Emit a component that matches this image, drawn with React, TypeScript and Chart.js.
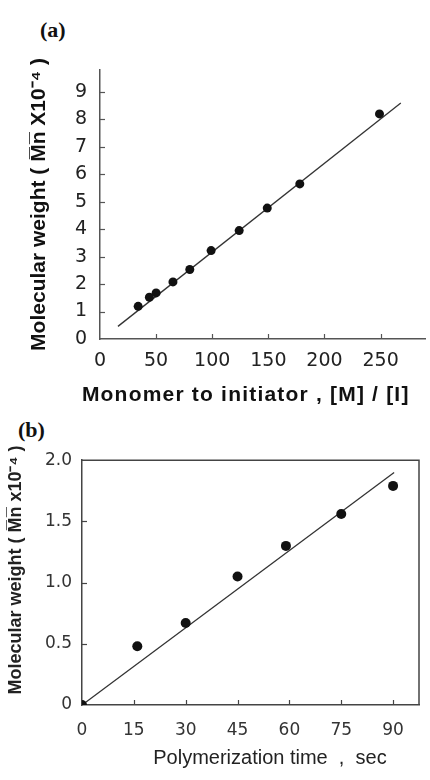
import React, { useEffect, useRef } from "react";
import { Chart, registerables } from "chart.js";

Chart.register(...registerables);

// ---- Panel (a): Mn vs [M]/[I] ----
const ratioA = [34, 44, 50, 65, 80, 99, 124, 149, 178, 249];
const mnA = [1.19, 1.52, 1.68, 2.08, 2.53, 3.22, 3.95, 4.77, 5.65, 8.2];
const fitAX = [16, 268];
const fitAY = [0.46, 8.6];
const xTicksA = [0, 50, 100, 150, 200, 250];
const xTickLabelsA = ["0", "50", "100", "150", "200", "250"];
const yTicksA = [0, 1, 2, 3, 4, 5, 6, 7, 8, 9];
const yTickLabelsA = ["0", "1", "2", "3", "4", "5", "6", "7", "8", "9"];
const xTitleA = "Monomer to initiator , [M] / [I]";

// ---- Panel (b): Mn vs polymerization time ----
const timeB = [0, 16, 30, 45, 59, 75, 90];
const mnB = [0, 0.48, 0.67, 1.05, 1.3, 1.56, 1.79];
const fitBX = [0, 90.3];
const fitBY = [0, 1.9];
const xTicksB = [0, 15, 30, 45, 60, 75, 90];
const xTickLabelsB = ["0", "15", "30", "45", "60", "75", "90"];
const yTicksB = [0, 0.5, 1.0, 1.5, 2.0];
const yTickLabelsB = ["0", "0.5", "1.0", "1.5", "2.0"];

const DEJAVU = "'DejaVu Sans', 'Liberation Sans', sans-serif";
const SANS = "'Liberation Sans', Arial, sans-serif";
const NARROW = "'Liberation Sans Narrow', 'Arial Narrow', 'Liberation Sans', sans-serif";

function innerTicksPlugin(len: number, color: string, width: number) {
  return {
    id: "innerTicks",
    afterDatasetsDraw(chart: any) {
      const { ctx, chartArea, scales } = chart;
      ctx.save();
      ctx.strokeStyle = color;
      ctx.lineWidth = width;
      const xs = scales.x;
      const ys = scales.y;
      for (const t of xs.ticks) {
        if (t.value <= xs.min || t.value >= xs.max) continue;
        const px = Math.round(xs.getPixelForValue(t.value)) + 0.5;
        ctx.beginPath();
        ctx.moveTo(px, chartArea.bottom);
        ctx.lineTo(px, chartArea.bottom - len);
        ctx.stroke();
      }
      for (const t of ys.ticks) {
        if (t.value <= ys.min || t.value >= ys.max) continue;
        const py = Math.round(ys.getPixelForValue(t.value)) + 0.5;
        ctx.beginPath();
        ctx.moveTo(chartArea.left, py);
        ctx.lineTo(chartArea.left + len, py);
        ctx.stroke();
      }
      ctx.restore();
    },
  };
}

function boxPlugin(color: string, width: number) {
  return {
    id: "boxFrame",
    afterDatasetsDraw(chart: any) {
      const { ctx, chartArea } = chart;
      ctx.save();
      ctx.strokeStyle = color;
      ctx.lineWidth = width;
      ctx.beginPath();
      ctx.moveTo(chartArea.left, chartArea.top);
      ctx.lineTo(chartArea.right, chartArea.top);
      ctx.lineTo(chartArea.right, chartArea.bottom);
      ctx.stroke();
      ctx.restore();
    },
  };
}

// x-axis title for panel (a), drawn a little left of the plot centre as in the source figure
function xTitlePlugin(text: string, shift: number, fromBottom: number) {
  return {
    id: "xTitleA",
    afterDraw(chart: any) {
      const { ctx, chartArea } = chart;
      ctx.save();
      ctx.font = "bold 21px 'Liberation Sans', Arial, sans-serif";
      (ctx as any).letterSpacing = "1.2px";
      ctx.fillStyle = "#111";
      ctx.textAlign = "center";
      ctx.textBaseline = "middle";
      const cx = (chartArea.left + chartArea.right) / 2 + shift;
      ctx.fillText(text, cx, chart.height - fromBottom);
      ctx.restore();
    },
  };
}

function ChartA() {
  const ref = useRef<HTMLCanvasElement | null>(null);
  useEffect(() => {
    if (!ref.current) return;
    const chart = new Chart(ref.current, {
      type: "scatter",
      data: {
        datasets: [
          {
            label: "Mn",
            data: ratioA.map((x, i) => ({ x, y: mnA[i] })),
            pointRadius: 4.5,
            pointBackgroundColor: "#111",
            pointBorderColor: "#111",
            pointBorderWidth: 0,
            showLine: false,
          },
          {
            label: "fit",
            data: fitAX.map((x, i) => ({ x, y: fitAY[i] })),
            showLine: true,
            borderColor: "#333",
            borderWidth: 1.3,
            pointRadius: 0,
          },
        ],
      },
      options: {
        responsive: false,
        animation: false,
        layout: { padding: { top: 70, right: 0, left: 0, bottom: 0 } },
        plugins: { legend: { display: false }, tooltip: { enabled: false } },
        scales: {
          x: {
            type: "linear",
            min: 0,
            max: 290,
            afterBuildTicks: (s: any) => {
              s.ticks = xTicksA.map((v) => ({ value: v }));
            },
            afterFit: (s: any) => {
              s.height = 71;
            },
            grid: { display: false, drawTicks: false },
            border: { display: true, color: "#555", width: 1.5 },
            ticks: {
              padding: 11,
              color: "#222",
              maxRotation: 0,
              autoSkip: false,
              font: { size: 19, family: DEJAVU },
              callback: (_v: any, i: number) => xTickLabelsA[i],
            },
            title: { display: false },
          },
          y: {
            type: "linear",
            min: 0,
            max: 9.8,
            afterBuildTicks: (s: any) => {
              s.ticks = yTicksA.map((v) => ({ value: v }));
            },
            afterFit: (s: any) => {
              s.width = 100;
            },
            grid: { display: false, drawTicks: false },
            border: { display: true, color: "#555", width: 1.5 },
            ticks: {
              padding: 13,
              color: "#222",
              autoSkip: false,
              font: { size: 19, family: DEJAVU },
              callback: (_v: any, i: number) => yTickLabelsA[i],
            },
            title: {
              display: true,
              text: "Molecular weight ( M\u0305n\u0305 X10\u207B\u2074 )",
              color: "#111",
              font: { size: 21, weight: "bold", family: NARROW },
              padding: { top: 27, bottom: 0 },
            },
          },
        },
      },
      plugins: [innerTicksPlugin(5, "#555", 1.2), xTitlePlugin(xTitleA, -17, 15)],
    } as any);
    return () => chart.destroy();
  }, []);
  return <canvas ref={ref} width={430} height={410} style={{ position: "absolute", left: 0, top: 0, width: 430, height: 410 }} />;
}

function ChartB() {
  const ref = useRef<HTMLCanvasElement | null>(null);
  useEffect(() => {
    if (!ref.current) return;
    const chart = new Chart(ref.current, {
      type: "scatter",
      data: {
        datasets: [
          {
            label: "Mn",
            data: timeB.map((x, i) => ({ x, y: mnB[i] })),
            pointRadius: 5,
            pointBackgroundColor: "#111",
            pointBorderColor: "#111",
            pointBorderWidth: 0,
            showLine: false,
          },
          {
            label: "fit",
            data: fitBX.map((x, i) => ({ x, y: fitBY[i] })),
            showLine: true,
            borderColor: "#333",
            borderWidth: 1.3,
            pointRadius: 0,
          },
        ],
      },
      options: {
        responsive: false,
        animation: false,
        layout: { padding: { top: 20, right: 11, left: 0, bottom: 0 } },
        plugins: { legend: { display: false }, tooltip: { enabled: false } },
        scales: {
          x: {
            type: "linear",
            min: 0,
            max: 97.5,
            afterBuildTicks: (s: any) => {
              s.ticks = xTicksB.map((v) => ({ value: v }));
            },
            afterFit: (s: any) => {
              s.height = 75;
            },
            grid: { display: false, drawTicks: false },
            border: { display: true, color: "#444", width: 1.5 },
            ticks: {
              padding: 15,
              color: "#333",
              maxRotation: 0,
              autoSkip: false,
              font: { size: 17, family: DEJAVU },
              callback: (_v: any, i: number) => xTickLabelsB[i],
            },
            title: {
              display: true,
              text: "       Polymerization time  ,  sec",
              color: "#222",
              font: { size: 20, family: SANS },
              padding: { top: 0, bottom: 10 },
            },
          },
          y: {
            type: "linear",
            min: 0,
            max: 2.0,
            afterBuildTicks: (s: any) => {
              s.ticks = yTicksB.map((v) => ({ value: v }));
            },
            afterFit: (s: any) => {
              s.width = 82;
            },
            grid: { display: false, drawTicks: false },
            border: { display: true, color: "#444", width: 1.5 },
            ticks: {
              padding: 10,
              color: "#333",
              autoSkip: false,
              font: { size: 17, family: DEJAVU },
              callback: (_v: any, i: number) => yTickLabelsB[i],
            },
            title: {
              display: true,
              text: "     Molecular weight ( M\u0305n\u0305 x10\u207B\u2074 )",
              color: "#222",
              font: { size: 18, weight: "bold", family: SANS },
              padding: { top: 5, bottom: 0 },
            },
          },
        },
      },
      plugins: [innerTicksPlugin(5, "#444", 1.2), boxPlugin("#444", 1.5)],
    } as any);
    return () => chart.destroy();
  }, []);
  return <canvas ref={ref} width={430} height={340} style={{ position: "absolute", left: 0, top: 440, width: 430, height: 340 }} />;
}

export default function App() {
  const labelStyle: React.CSSProperties = {
    position: "absolute",
    fontFamily: "'Liberation Serif', 'Times New Roman', serif",
    fontWeight: "bold",
    fontSize: 22,
    lineHeight: "22px",
    color: "#111",
  };
  return (
    <div style={{ position: "absolute", left: 0, top: 0, width: 430, height: 780, background: "#fff", overflow: "hidden" }}>
      <div style={{ ...labelStyle, left: 40, top: 19 }}>(a)</div>
      <div style={{ ...labelStyle, left: 18, top: 419 }}>(b)</div>
      <ChartA />
      <ChartB />
    </div>
  );
}
